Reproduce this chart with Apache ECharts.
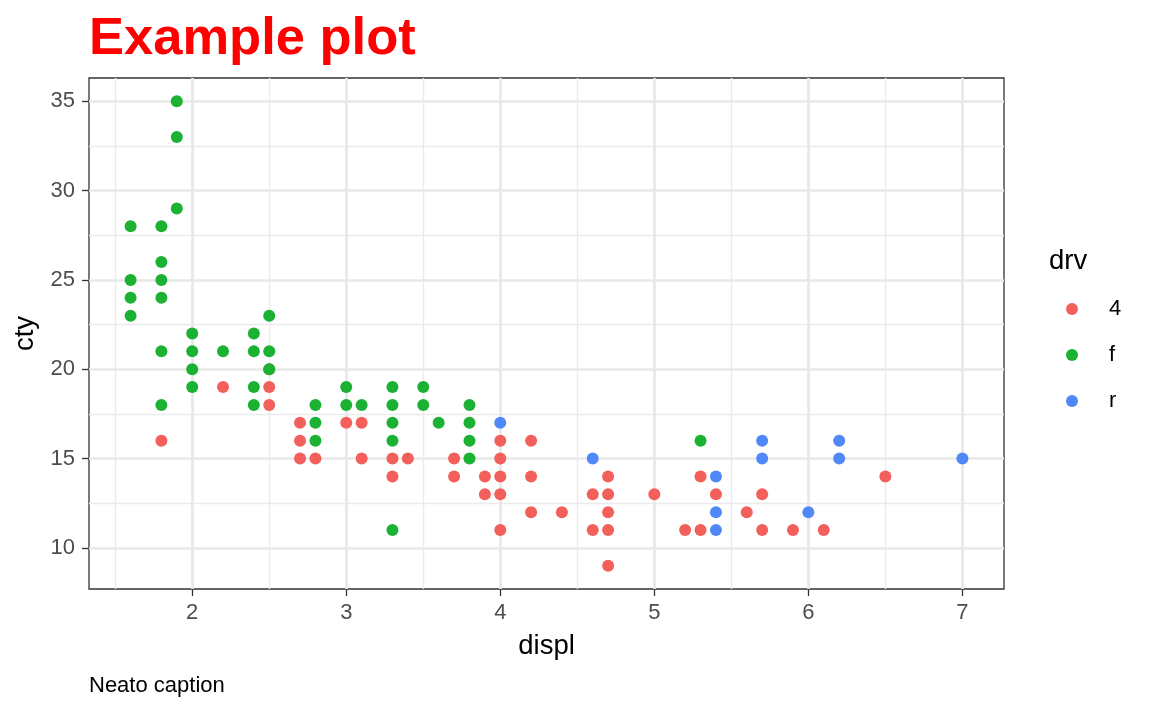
<!DOCTYPE html>
<html>
<head>
<meta charset="utf-8">
<script src="https://cdn.jsdelivr.net/npm/echarts@6/dist/echarts.min.js"></script>
<style>html,body{margin:0;padding:0;background:#fff}#c{width:1152px;height:711px}</style>
</head>
<body>
<div id="c"></div>
<script>
// displ, cty pairs per drive type (unique visible points)
const drv4 = [
  [1.8,16],[2.2,19],[2.5,20],[2.5,19],[2.5,18],[2.7,17],[2.7,16],[2.7,15],[2.8,15],
  [3.0,17],[3.1,17],[3.1,15],[3.3,15],[3.3,14],[3.4,15],[3.7,15],[3.7,14],[3.9,14],[3.9,13],
  [4.0,16],[4.0,15],[4.0,14],[4.0,13],[4.0,11],[4.2,16],[4.2,14],[4.2,12],[4.4,12],
  [4.6,13],[4.6,11],[4.7,14],[4.7,13],[4.7,12],[4.7,11],[4.7,9],[5.0,13],[5.2,11],
  [5.3,14],[5.3,11],[5.4,13],[5.6,12],[5.7,13],[5.7,11],[5.9,11],[6.1,11],[6.5,14]
];
const drvF = [
  [1.6,28],[1.6,25],[1.6,24],[1.6,23],[1.8,28],[1.8,26],[1.8,25],[1.8,24],[1.8,21],[1.8,18],
  [1.9,35],[1.9,33],[1.9,29],[2.0,22],[2.0,21],[2.0,20],[2.0,19],[2.2,21],
  [2.4,22],[2.4,21],[2.4,19],[2.4,18],[2.5,23],[2.5,21],[2.5,20],
  [2.8,18],[2.8,17],[2.8,16],[3.0,19],[3.0,18],[3.1,18],
  [3.3,19],[3.3,18],[3.3,17],[3.3,16],[3.3,11],[3.5,19],[3.5,18],[3.6,17],
  [3.8,18],[3.8,17],[3.8,16],[3.8,15],[5.3,16]
];
const drvR = [
  [4.0,17],[4.6,15],[5.4,14],[5.4,12],[5.4,11],[5.7,16],[5.7,15],[6.0,12],[6.2,16],[6.2,15],[7.0,15]
];
const xTicks = [2,3,4,5,6,7];
const yTicks = [10,15,20,25,30,35];
const xMinor = [1.5,2.5,3.5,4.5,5.5,6.5];
const yMinor = [12.5,17.5,22.5,27.5,32.5];
const drvNames = ['4','f','r'];
const drvColors = ['#F35F5B','#1BB233','#5188F8'];

const FONT = "'Liberation Sans', Arial, Helvetica, sans-serif";
const chart = echarts.init(document.getElementById('c'), null, {renderer:'canvas'});

const gridLines = [];
xMinor.forEach(v => gridLines.push({xAxis:v, lineStyle:{color:'#EBEBEB', width:1.4, type:'solid'}}));
yMinor.forEach(v => gridLines.push({yAxis:v, lineStyle:{color:'#EBEBEB', width:1.4, type:'solid'}}));
xTicks.forEach(v => gridLines.push({xAxis:v, lineStyle:{color:'#E8E8E8', width:2.7, type:'solid'}}));
yTicks.forEach(v => gridLines.push({yAxis:v, lineStyle:{color:'#E8E8E8', width:2.7, type:'solid'}}));

const dataSets = [drv4, drvF, drvR];
const series = [{
  type:'line', data:[], silent:true, z:1,
  markLine:{silent:true, symbol:'none', z:1, animation:false, label:{show:false}, emphasis:{disabled:true}, data:gridLines}
}];
drvNames.forEach((n,i) => series.push({
  name:n, type:'scatter', z:3, symbol:'circle', symbolSize:12,
  itemStyle:{color:drvColors[i], opacity:1}, data:dataSets[i], emphasis:{disabled:true}
}));

chart.setOption({
  animation:false,
  textStyle:{fontFamily:FONT},
  title:[
    {text:'Example plot', left:89, top:13, padding:0, textStyle:{color:'#FF0000', fontSize:52.5, fontWeight:'bold', fontFamily:FONT}},
    {text:'drv', left:1049, top:247, padding:0, textStyle:{color:'#000', fontSize:27.5, fontWeight:'normal', fontFamily:FONT}},
    {text:'Neato caption', left:89, top:675, padding:0, textStyle:{color:'#000', fontSize:22, fontWeight:'normal', fontFamily:FONT}}
  ],
  legend:{
    data:drvNames, orient:'vertical', left:1066, top:298, padding:0,
    itemWidth:64, itemHeight:12, itemGap:24, icon:'circle', selectedMode:false,
    textStyle:{color:'#000', fontSize:22, lineHeight:22, fontFamily:FONT}
  },
  grid:{left:89, right:148, top:78, bottom:122, show:true, borderColor:'#333333', borderWidth:1.3, backgroundColor:'#fff', containLabel:false},
  xAxis:{
    type:'value', min:1.33, max:7.27,
    name:'displ', nameLocation:'middle', nameGap:43,
    nameTextStyle:{color:'#000', fontSize:27.5, fontFamily:FONT},
    axisLine:{show:false},
    axisTick:{show:true, length:7, lineStyle:{color:'#333333', width:1.3}, customValues:xTicks},
    axisLabel:{color:'#4D4D4D', fontSize:22, margin:13, fontFamily:FONT, customValues:xTicks},
    splitLine:{show:false}, minorSplitLine:{show:false}
  },
  yAxis:{
    type:'value', min:7.7, max:36.3,
    name:'cty', nameLocation:'middle', nameGap:50,
    nameTextStyle:{color:'#000', fontSize:27.5, fontFamily:FONT},
    axisLine:{show:false},
    axisTick:{show:true, length:7, lineStyle:{color:'#333333', width:1.3}, customValues:yTicks},
    axisLabel:{color:'#4D4D4D', fontSize:22, margin:14, fontFamily:FONT, customValues:yTicks},
    splitLine:{show:false}, minorSplitLine:{show:false}
  },
  series:series
});
</script>
</body>
</html>
